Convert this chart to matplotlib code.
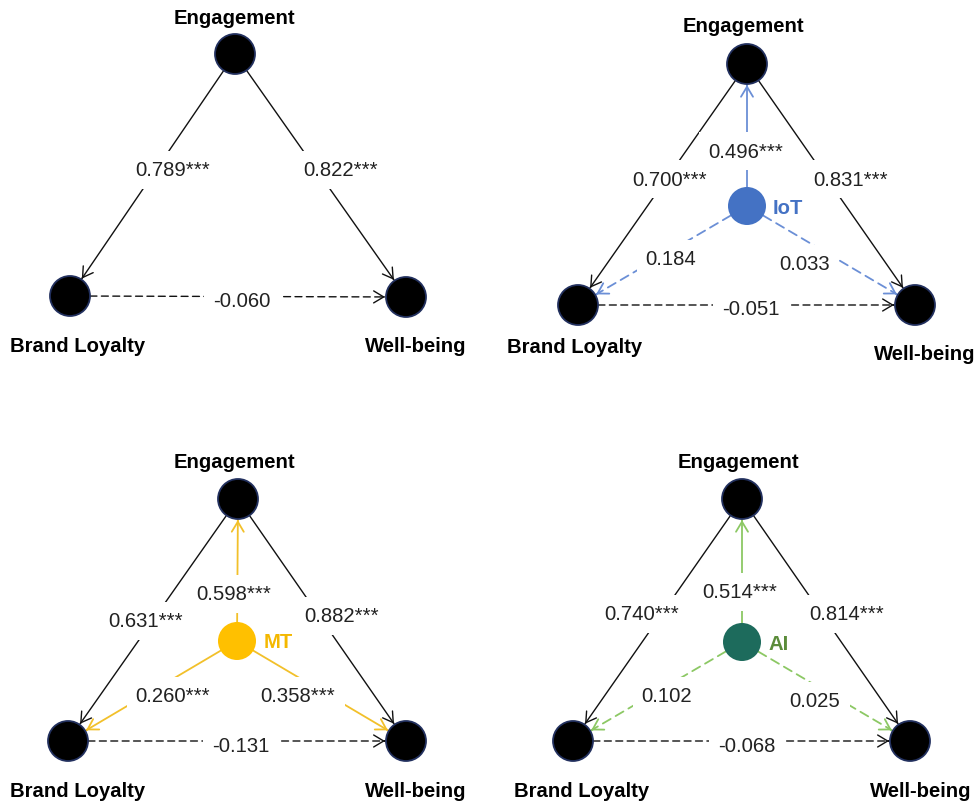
import numpy as np
import matplotlib.pyplot as plt
from matplotlib.patches import Circle, FancyArrowPatch

plt.rcParams['font.family'] = ['Liberation Sans', 'DejaVu Sans']

# path coefficients per model (base model, then the three moderated ones)
moderators = [None, "IoT", "MT", "AI"]
eng_bl = [0.789, 0.700, 0.631, 0.740]
eng_bl_sig = ["***", "***", "***", "***"]
eng_wb = [0.822, 0.831, 0.882, 0.814]
eng_wb_sig = ["***", "***", "***", "***"]
bl_wb = [-0.060, -0.051, -0.131, -0.068]
bl_wb_sig = ["", "", "", ""]
mod_eng = [None, 0.496, 0.598, 0.514]
mod_eng_sig = ["", "***", "***", "***"]
mod_bl = [None, 0.184, 0.260, 0.102]
mod_bl_sig = ["", "", "***", ""]
mod_wb = [None, 0.033, 0.358, 0.025]
mod_wb_sig = ["", "", "***", ""]

# colours for each moderator: node, arrows, label
mod_colors = {
    "IoT": ("#4472C4", "#6B8FD6", "#4472C4"),
    "MT": ("#FFC000", "#F2C02A", "#F4B800"),
    "AI": ("#1D6B5C", "#8CC864", "#5B8C3A"),
}

# layout in pixels: node centres, coefficient label spots, name label spots
layout = [
    dict(E=(235, 55), BL=(70, 297), WB=(406, 298), M=None,
         l_ebl=(173, 171), l_ewb=(341, 171), l_bw=(242, 302),
         n_E=(234, 18), n_BL=(78, 347), n_WB=(416, 347)),
    dict(E=(747, 65), BL=(578, 306), WB=(915, 306), M=(747, 207),
         l_ebl=(670, 180), l_ewb=(851, 180), l_bw=(751, 310),
         l_me=(746, 152), l_mb=(671, 260), l_mw=(805, 265), l_M=(788, 208),
         n_E=(743, 27), n_BL=(575, 348), n_WB=(925, 355)),
    dict(E=(238, 500), BL=(68, 742), WB=(406, 742), M=(237, 642),
         l_ebl=(146, 622), l_ewb=(342, 617), l_bw=(241, 747),
         l_me=(234, 595), l_mb=(173, 697), l_mw=(298, 697), l_M=(278, 643),
         n_E=(234, 463), n_BL=(78, 792), n_WB=(416, 792)),
    dict(E=(742, 500), BL=(573, 742), WB=(910, 742), M=(742, 643),
         l_ebl=(642, 615), l_ewb=(847, 615), l_bw=(747, 747),
         l_me=(740, 593), l_mb=(667, 697), l_mw=(815, 702), l_M=(779, 645),
         n_E=(738, 463), n_BL=(582, 792), n_WB=(921, 792)),
]

R_NODE = 20
R_MOD = 19
FS = 14.6
HEAD = "->,head_length=0.45,head_width=0.27"


def fmt(v, sig):
    return f"{v:.3f}{sig}"


def arrow(ax, p, q, rp, rq, color, sig, lw):
    # shaft (solid if significant, dashed otherwise) plus a solid open head
    p = np.array(p, float)
    q = np.array(q, float)
    u = (q - p) / np.linalg.norm(q - p)
    a = p + u * rp
    b = q - u * (rq + 1)
    ls = "-" if sig else (0, (5, 3.2))
    ax.add_patch(FancyArrowPatch(a, b, arrowstyle="-", color=color, lw=lw, linestyle=ls,
                                 shrinkA=0, shrinkB=0, zorder=2))
    ax.add_patch(FancyArrowPatch(b - u * 0.5, b, arrowstyle=HEAD, mutation_scale=16,
                                 color=color, lw=lw, shrinkA=0, shrinkB=0, zorder=2))


def coef(ax, xy, s):
    ax.text(xy[0], xy[1], s, ha="center", va="center", fontsize=FS, color="#222222",
            zorder=3, bbox=dict(boxstyle="square,pad=0.45", fc="white", ec="none"))


fig = plt.figure(figsize=(9.77, 8.04), dpi=100)
ax = fig.add_axes([0, 0, 1, 1])
ax.set_xlim(0, 977)
ax.set_ylim(804, 0)
ax.set_aspect("equal")
ax.axis("off")

for i, L in enumerate(layout):
    arrow(ax, L["E"], L["BL"], R_NODE, R_NODE, "#111111", eng_bl_sig[i], 1.0)
    arrow(ax, L["E"], L["WB"], R_NODE, R_NODE, "#111111", eng_wb_sig[i], 1.0)
    arrow(ax, L["BL"], L["WB"], R_NODE, R_NODE, "#111111", bl_wb_sig[i], 1.0)
    coef(ax, L["l_ebl"], fmt(eng_bl[i], eng_bl_sig[i]))
    coef(ax, L["l_ewb"], fmt(eng_wb[i], eng_wb_sig[i]))
    coef(ax, L["l_bw"], fmt(bl_wb[i], bl_wb_sig[i]))

    name = moderators[i]
    if name is not None:
        node_c, line_c, text_c = mod_colors[name]
        arrow(ax, L["M"], L["E"], R_MOD, R_NODE, line_c, mod_eng_sig[i], 1.3)
        arrow(ax, L["M"], L["BL"], R_MOD, R_NODE, line_c, mod_bl_sig[i], 1.3)
        arrow(ax, L["M"], L["WB"], R_MOD, R_NODE, line_c, mod_wb_sig[i], 1.3)
        coef(ax, L["l_me"], fmt(mod_eng[i], mod_eng_sig[i]))
        coef(ax, L["l_mb"], fmt(mod_bl[i], mod_bl_sig[i]))
        coef(ax, L["l_mw"], fmt(mod_wb[i], mod_wb_sig[i]))
        ax.add_patch(Circle(L["M"], R_MOD, fc=node_c, ec="none", zorder=4))
        ax.text(L["l_M"][0], L["l_M"][1], name, ha="center", va="center",
                fontsize=FS, fontweight="bold", color=text_c, zorder=5)

    for key in ("E", "BL", "WB"):
        ax.add_patch(Circle(L[key], R_NODE, fc="black", ec="#22305e", lw=1.3, zorder=4))

    for key, label in (("n_E", "Engagement"), ("n_BL", "Brand Loyalty"), ("n_WB", "Well-being")):
        ax.text(L[key][0], L[key][1], label, ha="center", va="center",
                fontsize=FS, fontweight="bold", color="black", zorder=5)

fig.savefig("out.png", dpi=100, facecolor="white")
